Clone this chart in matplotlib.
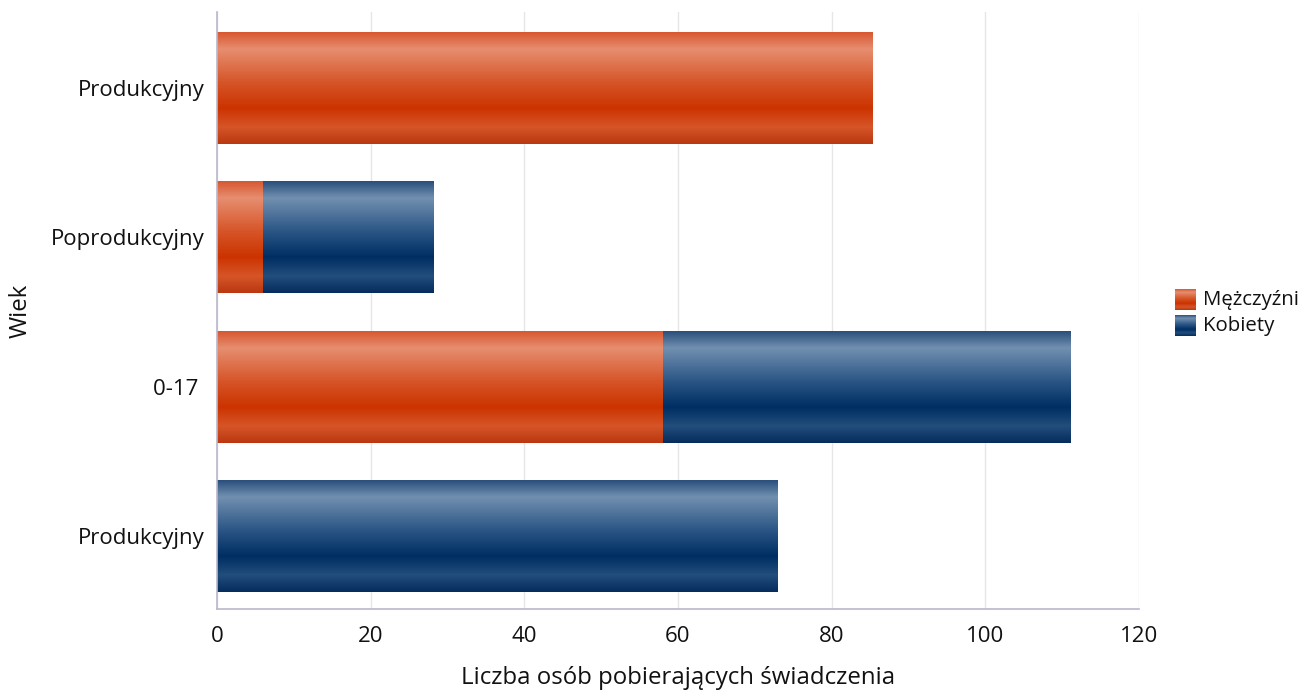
import numpy as np
import matplotlib
matplotlib.use("Agg")
import matplotlib.pyplot as plt

plt.rcParams['font.family'] = ['Open Sans', 'DejaVu Sans']

# data (bottom to top)
categories = ['Produkcyjny', '0-17 ', 'Poprodukcyjny', 'Produkcyjny']
men = [0, 58, 6, 85.3]
women = [73, 53, 22.2, 0]
x_ticks = [0, 20, 40, 60, 80, 100, 120]

# gradient stops (top -> bottom)
stops = [0.0, 0.15, 0.45, 0.68, 0.85, 1.0]
blue_stops = ['#2a4f7c', '#7290b0', '#2a5585', '#002e63', '#224e7c', '#052c5c']
orange_stops = ['#d85830', '#e68e70', '#d65528', '#cc3300', '#d65528', '#bb3810']


def make_grad(hexes, n=200):
    rgb = np.array([matplotlib.colors.to_rgb(h) for h in hexes])
    t = np.linspace(0, 1, n)
    cols = np.stack([np.interp(t, stops, rgb[:, i]) for i in range(3)], axis=1)
    return cols[:, None, :]


grad_blue = make_grad(blue_stops)
grad_orange = make_grad(orange_stops)

fig = plt.figure(figsize=(13.12, 6.92), dpi=100)
ax = fig.add_axes([0.1654, 0.1199, 0.7027, 0.8628])

h = 0.75
y = np.arange(len(categories))
for i in range(len(categories)):
    if men[i] > 0:
        ax.imshow(grad_orange, extent=[0, men[i], y[i] - h / 2, y[i] + h / 2],
                  aspect='auto', interpolation='bilinear', zorder=2)
    if women[i] > 0:
        ax.imshow(grad_blue, extent=[men[i], men[i] + women[i], y[i] - h / 2, y[i] + h / 2],
                  aspect='auto', interpolation='bilinear', zorder=2)

ax.set_xlim(0, 120)
ax.set_ylim(-0.49, 3.51)
ax.set_xticks(x_ticks)
ax.set_xticklabels([str(v) for v in x_ticks], fontsize=16, color='#111111')
ax.set_yticks(y)
ax.set_yticklabels(categories, fontsize=16, color='#111111')
ax.tick_params(axis='both', length=0)
ax.tick_params(axis='x', pad=12)
ax.tick_params(axis='y', pad=9)
ax.grid(axis='x', color='#e6e6e6', linewidth=1, zorder=0)
ax.set_axisbelow(True)
for s in ['top', 'right']:
    ax.spines[s].set_visible(False)
for s in ['left', 'bottom']:
    ax.spines[s].set_color('#b8b8cc')
    ax.spines[s].set_linewidth(1.2)

ax.set_xlabel('Liczba osób pobierających świadczenia', fontsize=17.3, color='#111111', labelpad=14)
ax.set_ylabel('Wiek', fontsize=17.3, color='#111111')
ax.yaxis.set_label_coords(-0.2, 0.5)

# legend drawn by hand with gradient swatches
legend_items = [('Mężczyźni', grad_orange), ('Kobiety', grad_blue)]
for k, (label, g) in enumerate(legend_items):
    ytop = 289 + k * 26
    sw = fig.add_axes([1175 / 1312, 1 - (ytop + 21) / 692, 21 / 1312, 21 / 692])
    sw.imshow(g, aspect='auto', interpolation='bilinear')
    sw.axis('off')
    fig.text(1203 / 1312, 1 - (ytop + 11) / 692, label, fontsize=14.7,
             color='#111111', va='center', ha='left')

fig.savefig('out.png', dpi=100)
